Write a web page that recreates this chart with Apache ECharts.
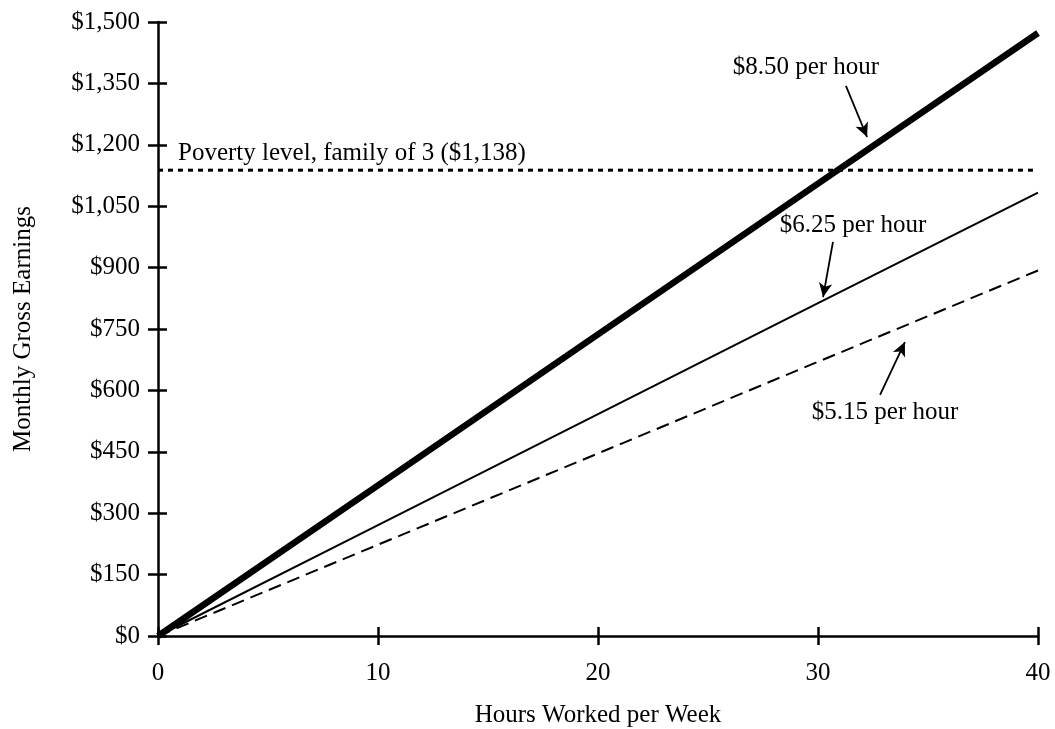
<!DOCTYPE html>
<html><head><meta charset="utf-8">
<script src="https://cdn.jsdelivr.net/npm/echarts@6/dist/echarts.min.js"></script>
<style>html,body{margin:0;padding:0;background:#fff}#c{width:1055px;height:729px}</style>
</head><body><div id="c"></div>
<script>
const hours = [0, 10, 20, 30, 40];
const wage850 = [0, 368, 737, 1105, 1473];
const wage625 = [0, 271, 542, 813, 1083];
const wage515 = [0, 223, 446, 670, 893];
const povertyLevel = 1138;
const povertyLabel = 'Poverty level, family of 3 ($1,138)';
const yTickLabels = ['$0','$150','$300','$450','$600','$750','$900','$1,050','$1,200','$1,350','$1,500'];
const labels = [
  {text: '$8.50 per hour', at: [29.45, 1390], arrow: [[31.27, 1344], [32.23, 1219]]},
  {text: '$6.25 per hour', at: [31.59, 1002], arrow: [[30.68, 963], [30.23, 828]]},
  {text: '$5.15 per hour', at: [33.05, 545], arrow: [[32.82, 589], [33.95, 718]]}
];

const FONT = '"Liberation Serif", "Times New Roman", serif';
const FS = 25;
const chart = echarts.init(document.getElementById('c'));
const toPairs = (ys) => hours.map((h, i) => [h, ys[i]]);
const axisLine = {lineStyle: {color: '#000', width: 2.5}};
const tickStyle = {lineStyle: {color: '#000', width: 2.5}};

chart.setOption({
  animation: false,
  grid: {left: 158, right: 17, top: 22, bottom: 93, containLabel: false, outerBoundsMode: 'none'},
  textStyle: {fontFamily: FONT},
  xAxis: [{
    type: 'value', min: 0, max: 40, interval: 10, position: 'bottom',
    axisLine: axisLine, axisTick: Object.assign({show: true, length: 9, inside: false}, tickStyle),
    splitLine: {show: false},
    axisLabel: {color: '#000', fontSize: FS, fontFamily: FONT, margin: 25},
    name: 'Hours Worked per Week', nameLocation: 'middle', nameGap: 67,
    nameTextStyle: {color: '#000', fontSize: FS, fontFamily: FONT}
  }, {
    type: 'value', min: 0, max: 40, interval: 10, position: 'bottom', offset: 0,
    axisLine: {show: false}, axisTick: Object.assign({show: true, length: 9, inside: true}, tickStyle),
    splitLine: {show: false}, axisLabel: {show: false}
  }],
  yAxis: [{
    type: 'value', min: 0, max: 1500, interval: 150, position: 'left',
    axisLine: axisLine, axisTick: Object.assign({show: true, length: 10, inside: false}, tickStyle),
    splitLine: {show: false},
    axisLabel: {color: '#000', fontSize: FS, fontFamily: FONT, margin: 18,
      formatter: (v) => yTickLabels[Math.round(v / 150)]},
    name: 'Monthly Gross Earnings', nameLocation: 'middle', nameGap: 122, nameRotate: 90,
    nameTextStyle: {color: '#000', fontSize: FS, fontFamily: FONT}
  }, {
    type: 'value', min: 0, max: 1500, interval: 150, position: 'left', offset: 0,
    axisLine: {show: false}, axisTick: Object.assign({show: true, length: 9, inside: true}, tickStyle),
    splitLine: {show: false}, axisLabel: {show: false}
  }],
  series: [
    {type: 'line', name: 'poverty', data: [[0, povertyLevel], [40, povertyLevel]], showSymbol: false,
     lineStyle: {color: '#000', width: 3, type: [5, 5]}, silent: true,
     markPoint: {symbol: 'circle', symbolSize: 0, silent: true,
       data: [{coord: [0.91, 1180], value: povertyLabel,
         label: {show: true, position: 'right', distance: 0, formatter: povertyLabel,
           color: '#000', fontSize: FS, fontFamily: FONT}}]}},
    {type: 'line', name: '$5.15', data: toPairs(wage515), showSymbol: false,
     lineStyle: {color: '#000', width: 2, type: [13, 7]}},
    {type: 'line', name: '$6.25', data: toPairs(wage625), showSymbol: false,
     lineStyle: {color: '#000', width: 2}},
    {type: 'line', name: '$8.50', data: toPairs(wage850), showSymbol: false,
     lineStyle: {color: '#000', width: 6.5}},
    {type: 'line', name: 'annotations', data: [], silent: true,
     markPoint: {symbol: 'circle', symbolSize: 0, silent: true,
       data: labels.map(l => ({coord: l.at, value: l.text,
         label: {show: true, position: 'inside', formatter: l.text, color: '#000', fontSize: FS, fontFamily: FONT}}))},
     markLine: {silent: true, symbol: ['none', 'arrow'], symbolSize: [10, 14],
       label: {show: false},
       lineStyle: {color: '#000', width: 1.8, type: 'solid'},
       data: labels.map(l => [{coord: l.arrow[0]}, {coord: l.arrow[1]}])}}
  ]
});
</script>
</body></html>
